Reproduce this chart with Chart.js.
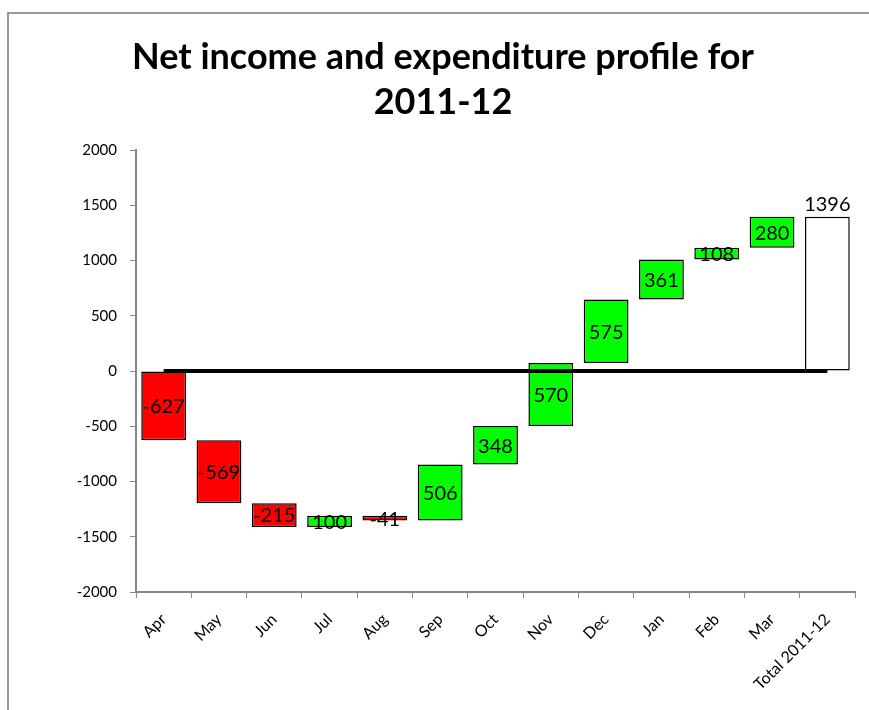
<!DOCTYPE html>
<html>
<head>
<meta charset="utf-8">
<script src="https://cdn.jsdelivr.net/npm/chart.js@4/dist/chart.umd.min.js"></script>
<style>
  body { margin: 0; background: #fff; }
  #frame { position: absolute; left: 7px; top: 12px; right: 0; bottom: 0; border-left: 2px solid #999; border-top: 2px solid #999; }
  #wrap { position: absolute; left: 0; top: 0; width: 869px; height: 710px; }
</style>
</head>
<body>
<div id="frame"></div>
<div id="wrap"><canvas id="chart"></canvas></div>
<script>
// months of the financial year plus the total column
const months = ['Apr', 'May', 'Jun', 'Jul', 'Aug', 'Sep', 'Oct', 'Nov', 'Dec', 'Jan', 'Feb', 'Mar'];
const totalLabel = 'Total 2011-12';
// monthly net change
const changes = [-627, -569, -215, 100, -41, 506, 348, 570, 575, 361, 108, 280];
const totalValue = 1396;
// y axis ticks
const yMin = -2000;
const yMax = 2000;
const yStep = 500;
const titleLines = ['Net income and expenditure profile for', '2011-12'];

const categories = months.concat([totalLabel]);

// waterfall: each month floats from the running total before it
let floating = [];
let running = 0;
for (let i = 0; i < changes.length; i++) {
    floating.push([running, running + changes[i]]);
    running += changes[i];
}
floating.push([0, totalValue]);
const labelsText = changes.concat([totalValue]);

const barColors = labelsText.map((v, i) => {
    if (i === labelsText.length - 1) return '#ffffff';
    return v < 0 ? '#ff0000' : '#00ff00';
});

const fontFamily = 'Lato, "Open Sans", sans-serif';

// draws the value on each bar (the total one sits above its bar)
const barLabels = {
    id: 'barLabels',
    afterDatasetsDraw(chart) {
        const meta = chart.getDatasetMeta(1);
        const ctx = chart.ctx;
        ctx.save();
        ctx.fillStyle = '#000';
        ctx.font = '20px ' + fontFamily;
        ctx.textAlign = 'center';
        meta.data.forEach((bar, i) => {
            const text = String(labelsText[i]);
            if (i === labelsText.length - 1) {
                ctx.textBaseline = 'bottom';
                ctx.fillText(text, bar.x, Math.min(bar.y, bar.base) - 2);
            } else {
                ctx.textBaseline = 'middle';
                ctx.fillText(text, bar.x, (bar.y + bar.base) / 2 + 1);
            }
        });
        ctx.restore();
    }
};

new Chart(document.getElementById('chart'), {
    type: 'bar',
    data: {
        labels: categories,
        datasets: [
            {
                type: 'line',
                label: 'zero',
                data: categories.map(() => 0),
                borderColor: '#000',
                borderWidth: 4,
                pointRadius: 0,
                order: 0
            },
            {
                label: 'change',
                data: floating,
                backgroundColor: barColors,
                borderColor: '#000',
                borderWidth: 1.5,
                borderSkipped: false,
                categoryPercentage: 1,
                barPercentage: 0.81,
                order: 1
            }
        ]
    },
    options: {
        responsive: true,
        maintainAspectRatio: false,
        animation: false,
        layout: { padding: { left: 31, right: 14, top: 0, bottom: 0 } },
        plugins: {
            legend: { display: false },
            tooltip: { enabled: false },
            title: {
                display: true,
                text: titleLines,
                color: '#000',
                font: { family: fontFamily, size: 36, weight: 'bold', lineHeight: 1.25 },
                padding: { top: 35, bottom: 25 }
            }
        },
        scales: {
            x: {
                grid: { drawOnChartArea: false, drawTicks: true, tickLength: 6, color: '#888', offset: true },
                border: { color: '#888', width: 2 },
                ticks: { color: '#000', font: { family: fontFamily, size: 16 }, maxRotation: 45, minRotation: 45, autoSkip: false, padding: 12 },
                afterFit(scale) { scale.height = 118; }
            },
            y: {
                min: yMin,
                max: yMax,
                grid: { drawOnChartArea: false, drawTicks: true, tickLength: 6, color: '#888' },
                border: { color: '#888', width: 2 },
                ticks: { stepSize: yStep, color: '#000', font: { family: fontFamily, size: 15 }, padding: 13,
                    callback: (value) => String(value) },
                afterFit(scale) { scale.width = 105; }
            }
        }
    },
    plugins: [barLabels]
});
</script>
</body>
</html>
